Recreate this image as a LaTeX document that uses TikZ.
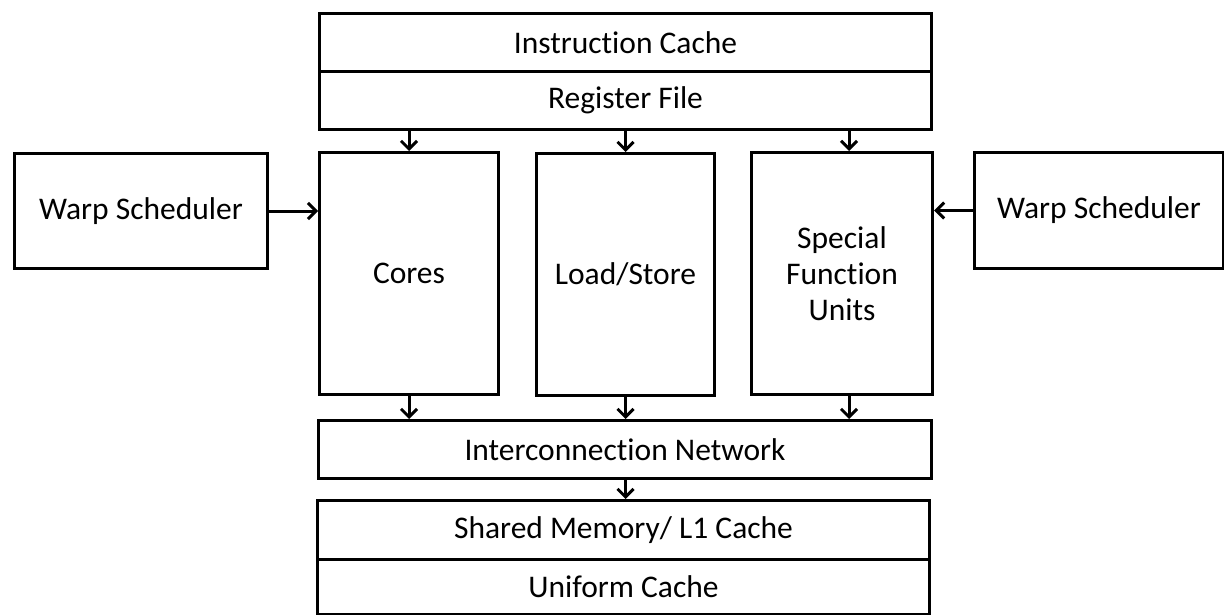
\documentclass[tikz,border=0pt]{standalone}
\usepackage{fontspec}
\setmainfont[Ligatures={NoCommon}]{Carlito}
\usetikzlibrary{arrows.meta}
\begin{document}
\begin{tikzpicture}[x=1pt,y=-1pt,
  box/.style={draw=black,line width=3pt,fill=white,inner sep=0pt,anchor=north west,align=center,
    font=\fontsize{31.5}{36}\selectfont},
  arr/.style={line width=3pt,-{Straight Barb[length=8pt,width=16pt,line width=3pt]}}]
\useasboundingbox (0,0) rectangle (1224,615);
\node[box,minimum width=612pt,minimum height=58pt] (ic) at (318,12) {Instruction Cache};
\node[box,minimum width=612pt,minimum height=58pt] (rf) at (318,70) {Register File};
\node[box,minimum width=179pt,minimum height=242pt] (cores) at (318,151) {Cores};
\node[box,minimum width=178pt,minimum height=242pt] (ls) at (535,152) {Load/Store};
\node[box,minimum width=181pt,minimum height=242pt] (sfu) at (750,151) {Special\\Function\\Units};
\node[box,minimum width=253pt,minimum height=115pt] (wl) at (13,152) {Warp Scheduler};
\node[box,minimum width=249pt,minimum height=116pt] (wr) at (973,151) {Warp Scheduler};
\node[box,minimum width=613pt,minimum height=58pt] (icn) at (317,419) {Interconnection Network};
\node[box,minimum width=612pt,minimum height=59pt] (sm) at (316,499) {Shared Memory/ L1 Cache};
\node[box,minimum width=612pt,minimum height=55pt] (uc) at (316,558) {Uniform Cache};
\draw[arr] (rf.south -| cores.north) -- (cores.north);
\draw[arr] (rf.south -| ls.north) -- (ls.north);
\draw[arr] ([xshift=7pt]sfu.north |- rf.south) -- ([xshift=7pt]sfu.north);
\draw[arr] (wl.east) -- (wl.east -| cores.west);
\draw[arr] (wr.west) -- (wr.west -| sfu.east);
\draw[arr] (cores.south) -- (cores.south |- icn.north);
\draw[arr] (ls.south) -- (ls.south |- icn.north);
\draw[arr] ([xshift=7pt]sfu.south) -- ([xshift=7pt]sfu.south |- icn.north);
\draw[arr] (icn.south -| ls.south) -- (sm.north -| ls.south);
\end{tikzpicture}
\end{document}
